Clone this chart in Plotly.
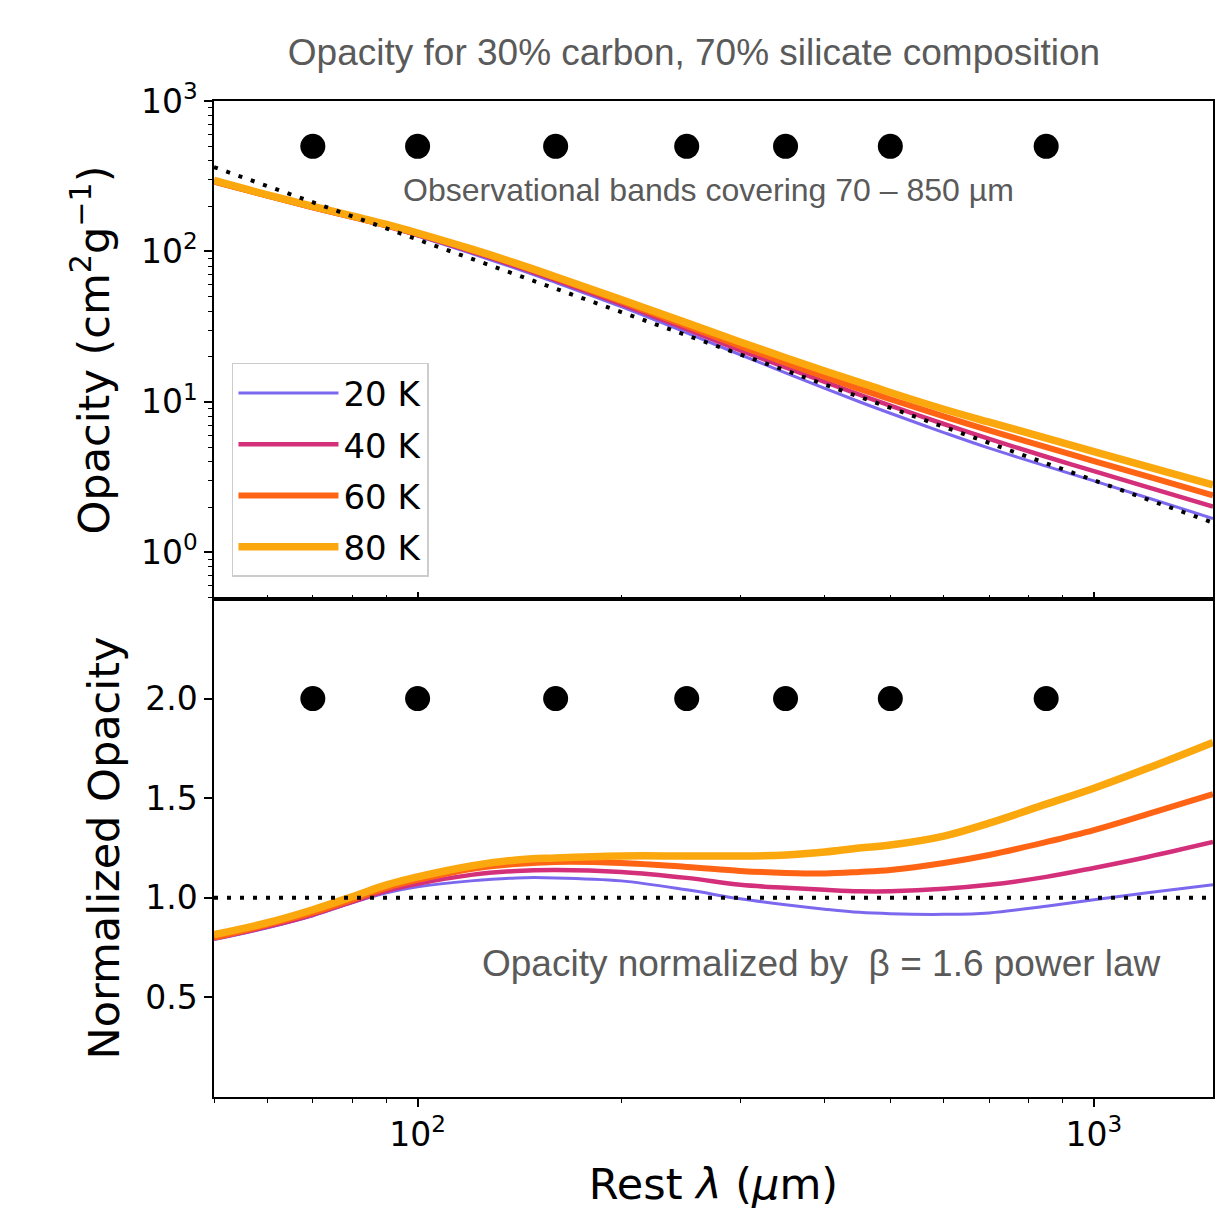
import math
import plotly.graph_objects as go
from plotly.subplots import make_subplots

# ---------------- data ----------------
wavelength_um = [50, 60, 70, 80, 90, 100, 120, 140, 160, 200, 250, 300,
                 350, 400, 450, 500, 600, 700, 850, 1000, 1200, 1500]

norm_20K = [0.79, 0.85, 0.91, 0.975, 1.025, 1.055, 1.085, 1.10, 1.10, 1.085, 1.04, 0.995,
            0.965, 0.943, 0.927, 0.92, 0.917, 0.924, 0.958, 0.99, 1.025, 1.066]
norm_40K = [0.795, 0.855, 0.915, 0.98, 1.035, 1.07, 1.115, 1.135, 1.14, 1.13, 1.10, 1.065,
            1.05, 1.04, 1.033, 1.033, 1.045, 1.065, 1.105, 1.15, 1.205, 1.28]
norm_60K = [0.80, 0.865, 0.925, 0.99, 1.05, 1.09, 1.145, 1.17, 1.18, 1.175, 1.155, 1.135,
            1.125, 1.122, 1.13, 1.14, 1.175, 1.215, 1.28, 1.34, 1.42, 1.52]
norm_80K = [0.815, 0.875, 0.94, 1.005, 1.065, 1.105, 1.16, 1.19, 1.20, 1.21, 1.21, 1.21,
            1.215, 1.23, 1.25, 1.265, 1.31, 1.375, 1.47, 1.55, 1.65, 1.78]

temperatures = ["20 K", "40 K", "60 K", "80 K"]
series_norm = [norm_20K, norm_40K, norm_60K, norm_80K]

band_wavelengths_um = [70, 100, 160, 250, 350, 500, 850]
band_level_opacity = 500
band_level_norm = 2.0

beta = 1.6
kappa_at_ref = 120.0      # cm^2 g^-1 at the reference wavelength
ref_wavelength_um = 100.0

# power law reference and absolute opacities (opacity = normalized x power law)
power_law = [kappa_at_ref * (w / ref_wavelength_um) ** (-beta) for w in wavelength_um]
series_abs = [[n * p for n, p in zip(s, power_law)] for s in series_norm]

# ---------------- styles ----------------
colors = ["#7B68EE", "#D42F7A", "#FF6414", "#FBA80F"]
widths = [3, 4.5, 6, 7.5]
gray = "#5a5a5a"
tick_font = dict(family="DejaVu Sans", size=33, color="black")
title_font = dict(family="DejaVu Sans", size=43, color="black")
dotted = dict(color="black", width=4, dash="4px,9px")

fig = make_subplots(rows=2, cols=1, shared_xaxes=True, vertical_spacing=0,
                    row_heights=[0.5, 0.5])

# top panel curves
for name, ys, c, w in zip(temperatures, series_abs, colors, widths):
    fig.add_trace(go.Scatter(x=wavelength_um, y=ys, mode="lines", name=name,
                             line=dict(color=c, width=w, shape="spline", smoothing=1.0),
                             legendgroup=name, showlegend=True),
                  row=1, col=1)
fig.add_trace(go.Scatter(x=wavelength_um, y=power_law, mode="lines", line=dotted,
                         showlegend=False), row=1, col=1)
fig.add_trace(go.Scatter(x=band_wavelengths_um, y=[band_level_opacity] * len(band_wavelengths_um),
                         mode="markers", marker=dict(color="black", size=25),
                         showlegend=False), row=1, col=1)

# bottom panel curves
for name, ys, c, w in zip(temperatures, series_norm, colors, widths):
    fig.add_trace(go.Scatter(x=wavelength_um, y=ys, mode="lines", name=name,
                             line=dict(color=c, width=w, shape="spline", smoothing=1.0),
                             legendgroup=name, showlegend=False),
                  row=2, col=1)
fig.add_trace(go.Scatter(x=[wavelength_um[0], wavelength_um[-1]], y=[1.0, 1.0], mode="lines",
                         line=dotted, showlegend=False), row=2, col=1)
fig.add_trace(go.Scatter(x=band_wavelengths_um, y=[band_level_norm] * len(band_wavelengths_um),
                         mode="markers", marker=dict(color="black", size=25),
                         showlegend=False), row=2, col=1)

xr = [math.log10(50), math.log10(1500)]
x_minor = [v * 10 ** k for k in (1, 2, 3) for v in range(2, 10) if 50 <= v * 10 ** k <= 1500]
y_minor = [v * 10 ** k for k in (-1, 0, 1, 2) for v in range(2, 10) if 0.49 <= v * 10 ** k <= 1000]

axis_common = dict(showline=True, linecolor="black", linewidth=1.5, mirror=True,
                   showgrid=False, zeroline=False, tickcolor="black", tickwidth=1.5,
                   tickfont=tick_font)

fig.update_xaxes(type="log", range=xr, **axis_common)
fig.update_xaxes(row=1, col=1, ticks="inside", ticklen=7, tickvals=[100, 1000],
                 showticklabels=False,
                 minor=dict(ticks="inside", ticklen=4, tickvals=x_minor, tickcolor="black",
                            tickwidth=1.2, showgrid=False))
fig.update_xaxes(row=2, col=1, ticks="outside", ticklen=8, tickvals=[100, 1000],
                 ticktext=["10<sup>2</sup>", "10<sup>3</sup>"],
                 minor=dict(ticks="outside", ticklen=4, tickvals=x_minor, tickcolor="black",
                            tickwidth=1.2, showgrid=False),
                 title=dict(text="Rest <i>λ</i> (<i>μ</i>m)", font=title_font, standoff=16))

fig.update_yaxes(row=1, col=1, type="log", range=[math.log10(0.49), 3], ticks="outside",
                 ticklen=8, tickvals=[1, 10, 100, 1000],
                 ticktext=["10<sup>0</sup>", "10<sup>1</sup>", "10<sup>2</sup>", "10<sup>3</sup>"],
                 minor=dict(ticks="outside", ticklen=4, tickvals=y_minor, tickcolor="black",
                            tickwidth=1.2, showgrid=False),
                 title=dict(text="Opacity (cm<sup>2</sup>g<sup>−1</sup>)", font=title_font,
                            standoff=18),
                 **axis_common)
fig.update_yaxes(row=2, col=1, range=[0, 2.5], ticks="outside", ticklen=8,
                 tickvals=[0.5, 1.0, 1.5, 2.0], ticktext=["0.5", "1.0", "1.5", "2.0"],
                 title=dict(text="Normalized Opacity", font=title_font, standoff=12),
                 **axis_common)

fig.add_annotation(text="Observational bands covering 70 – 850 µm", xref="paper", yref="paper",
                   x=0.4945, y=0.911, xanchor="center", yanchor="middle", showarrow=False,
                   font=dict(family="Liberation Sans", size=32, color=gray))
fig.add_annotation(text="Opacity normalized by  β = 1.6 power law", xref="paper", yref="paper",
                   x=0.608, y=0.1345, xanchor="center", yanchor="middle", showarrow=False,
                   font=dict(family="Liberation Sans", size=37, color=gray))

fig.update_layout(
    width=1226, height=1211,
    margin=dict(l=214, r=11, t=101, b=114),
    paper_bgcolor="white", plot_bgcolor="white",
    title=dict(text="Opacity for 30% carbon, 70% silicate composition",
               x=694 / 1226, xref="container", xanchor="center",
               y=1 - 52 / 1211, yref="container", yanchor="middle",
               font=dict(family="Liberation Sans", size=37, color=gray)),
    legend=dict(x=0.018, y=0.737, xanchor="left", yanchor="top",
                font=dict(family="DejaVu Sans", size=34, color="black"),
                bgcolor="white", bordercolor="#cccccc", borderwidth=1.5,
                tracegroupgap=4, itemwidth=100),
    showlegend=True,
)

fig.write_html("out.html")
